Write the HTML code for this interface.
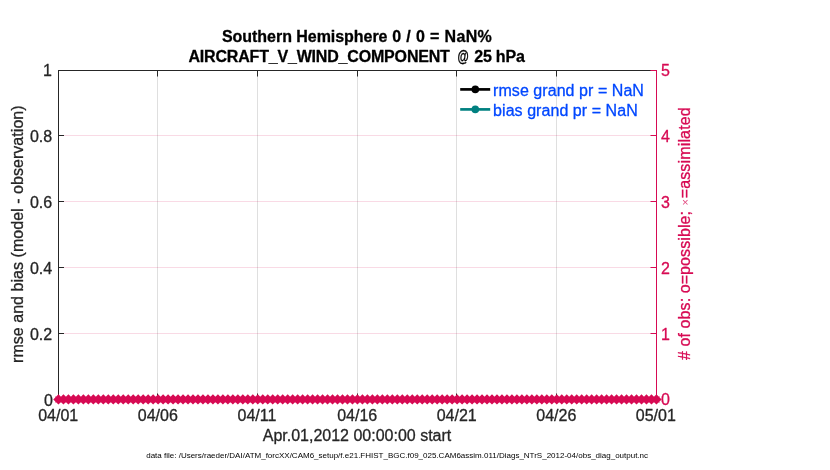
<!DOCTYPE html>
<html lang="en"><head><meta charset="utf-8"><title>AIRCRAFT_V_WIND_COMPONENT @ 25 hPa</title>
<style>
html,body{margin:0;padding:0;background:#fff;}
body{width:830px;height:470px;overflow:hidden;}
svg{display:block;}
text{font-family:"Liberation Sans",Arial,Helvetica,sans-serif;font-size:16px;stroke-width:0.3px;stroke-linejoin:round;}
</style></head><body>
<svg width="830" height="470" viewBox="0 0 830 470">
<rect width="830" height="470" fill="#fff"/>
<g stroke="#262626" stroke-opacity="0.15" stroke-width="1" fill="none">
<line x1="157.5" y1="70.5" x2="157.5" y2="399.5"/>
<line x1="257.5" y1="70.5" x2="257.5" y2="399.5"/>
<line x1="357.5" y1="70.5" x2="357.5" y2="399.5"/>
<line x1="456.5" y1="70.5" x2="456.5" y2="399.5"/>
<line x1="556.5" y1="70.5" x2="556.5" y2="399.5"/>
</g>
<g stroke="#D70A53" stroke-opacity="0.15" stroke-width="1" fill="none">
<line x1="58.5" y1="135.5" x2="656.5" y2="135.5"/>
<line x1="58.5" y1="201.5" x2="656.5" y2="201.5"/>
<line x1="58.5" y1="267.5" x2="656.5" y2="267.5"/>
<line x1="58.5" y1="333.5" x2="656.5" y2="333.5"/>
</g>
<g stroke="#262626" stroke-width="1" fill="none">
<line x1="157.5" y1="70.5" x2="157.5" y2="76.5"/>
<line x1="157.5" y1="399.5" x2="157.5" y2="393.5"/>
<line x1="257.5" y1="70.5" x2="257.5" y2="76.5"/>
<line x1="257.5" y1="399.5" x2="257.5" y2="393.5"/>
<line x1="357.5" y1="70.5" x2="357.5" y2="76.5"/>
<line x1="357.5" y1="399.5" x2="357.5" y2="393.5"/>
<line x1="456.5" y1="70.5" x2="456.5" y2="76.5"/>
<line x1="456.5" y1="399.5" x2="456.5" y2="393.5"/>
<line x1="556.5" y1="70.5" x2="556.5" y2="76.5"/>
<line x1="556.5" y1="399.5" x2="556.5" y2="393.5"/>
<line x1="58.5" y1="135.5" x2="64.0" y2="135.5"/>
<line x1="58.5" y1="201.5" x2="64.0" y2="201.5"/>
<line x1="58.5" y1="267.5" x2="64.0" y2="267.5"/>
<line x1="58.5" y1="333.5" x2="64.0" y2="333.5"/>
<path d="M58.0 70.5H656.5 M58.0 399.5H656.5 M58.5 70.5V399.5"/>
</g>
<g stroke="#D70A53" stroke-width="1" fill="none">
<line x1="656.5" y1="70.0" x2="656.5" y2="400.0"/>
<line x1="650.5" y1="70.5" x2="656.5" y2="70.5"/>
<line x1="650.5" y1="135.5" x2="656.5" y2="135.5"/>
<line x1="650.5" y1="201.5" x2="656.5" y2="201.5"/>
<line x1="650.5" y1="267.5" x2="656.5" y2="267.5"/>
<line x1="650.5" y1="333.5" x2="656.5" y2="333.5"/>
<line x1="650.5" y1="399.5" x2="656.5" y2="399.5"/>
</g>
<path fill="#D70A53" stroke="none" d="M55.3 396.4H659.7V402.4H55.3zM53.25 399.4l5.2 -5.2l5.2 5.2l-5.2 5.2zM58.23 399.4l5.2 -5.2l5.2 5.2l-5.2 5.2zM63.22 399.4l5.2 -5.2l5.2 5.2l-5.2 5.2zM68.20 399.4l5.2 -5.2l5.2 5.2l-5.2 5.2zM73.18 399.4l5.2 -5.2l5.2 5.2l-5.2 5.2zM78.17 399.4l5.2 -5.2l5.2 5.2l-5.2 5.2zM83.15 399.4l5.2 -5.2l5.2 5.2l-5.2 5.2zM88.13 399.4l5.2 -5.2l5.2 5.2l-5.2 5.2zM93.12 399.4l5.2 -5.2l5.2 5.2l-5.2 5.2zM98.10 399.4l5.2 -5.2l5.2 5.2l-5.2 5.2zM103.08 399.4l5.2 -5.2l5.2 5.2l-5.2 5.2zM108.07 399.4l5.2 -5.2l5.2 5.2l-5.2 5.2zM113.05 399.4l5.2 -5.2l5.2 5.2l-5.2 5.2zM118.03 399.4l5.2 -5.2l5.2 5.2l-5.2 5.2zM123.02 399.4l5.2 -5.2l5.2 5.2l-5.2 5.2zM128.00 399.4l5.2 -5.2l5.2 5.2l-5.2 5.2zM132.98 399.4l5.2 -5.2l5.2 5.2l-5.2 5.2zM137.97 399.4l5.2 -5.2l5.2 5.2l-5.2 5.2zM142.95 399.4l5.2 -5.2l5.2 5.2l-5.2 5.2zM147.93 399.4l5.2 -5.2l5.2 5.2l-5.2 5.2zM152.92 399.4l5.2 -5.2l5.2 5.2l-5.2 5.2zM157.90 399.4l5.2 -5.2l5.2 5.2l-5.2 5.2zM162.88 399.4l5.2 -5.2l5.2 5.2l-5.2 5.2zM167.87 399.4l5.2 -5.2l5.2 5.2l-5.2 5.2zM172.85 399.4l5.2 -5.2l5.2 5.2l-5.2 5.2zM177.83 399.4l5.2 -5.2l5.2 5.2l-5.2 5.2zM182.82 399.4l5.2 -5.2l5.2 5.2l-5.2 5.2zM187.80 399.4l5.2 -5.2l5.2 5.2l-5.2 5.2zM192.78 399.4l5.2 -5.2l5.2 5.2l-5.2 5.2zM197.77 399.4l5.2 -5.2l5.2 5.2l-5.2 5.2zM202.75 399.4l5.2 -5.2l5.2 5.2l-5.2 5.2zM207.73 399.4l5.2 -5.2l5.2 5.2l-5.2 5.2zM212.72 399.4l5.2 -5.2l5.2 5.2l-5.2 5.2zM217.70 399.4l5.2 -5.2l5.2 5.2l-5.2 5.2zM222.68 399.4l5.2 -5.2l5.2 5.2l-5.2 5.2zM227.67 399.4l5.2 -5.2l5.2 5.2l-5.2 5.2zM232.65 399.4l5.2 -5.2l5.2 5.2l-5.2 5.2zM237.63 399.4l5.2 -5.2l5.2 5.2l-5.2 5.2zM242.62 399.4l5.2 -5.2l5.2 5.2l-5.2 5.2zM247.60 399.4l5.2 -5.2l5.2 5.2l-5.2 5.2zM252.58 399.4l5.2 -5.2l5.2 5.2l-5.2 5.2zM257.57 399.4l5.2 -5.2l5.2 5.2l-5.2 5.2zM262.55 399.4l5.2 -5.2l5.2 5.2l-5.2 5.2zM267.53 399.4l5.2 -5.2l5.2 5.2l-5.2 5.2zM272.52 399.4l5.2 -5.2l5.2 5.2l-5.2 5.2zM277.50 399.4l5.2 -5.2l5.2 5.2l-5.2 5.2zM282.48 399.4l5.2 -5.2l5.2 5.2l-5.2 5.2zM287.47 399.4l5.2 -5.2l5.2 5.2l-5.2 5.2zM292.45 399.4l5.2 -5.2l5.2 5.2l-5.2 5.2zM297.43 399.4l5.2 -5.2l5.2 5.2l-5.2 5.2zM302.42 399.4l5.2 -5.2l5.2 5.2l-5.2 5.2zM307.40 399.4l5.2 -5.2l5.2 5.2l-5.2 5.2zM312.38 399.4l5.2 -5.2l5.2 5.2l-5.2 5.2zM317.37 399.4l5.2 -5.2l5.2 5.2l-5.2 5.2zM322.35 399.4l5.2 -5.2l5.2 5.2l-5.2 5.2zM327.33 399.4l5.2 -5.2l5.2 5.2l-5.2 5.2zM332.32 399.4l5.2 -5.2l5.2 5.2l-5.2 5.2zM337.30 399.4l5.2 -5.2l5.2 5.2l-5.2 5.2zM342.28 399.4l5.2 -5.2l5.2 5.2l-5.2 5.2zM347.27 399.4l5.2 -5.2l5.2 5.2l-5.2 5.2zM352.25 399.4l5.2 -5.2l5.2 5.2l-5.2 5.2zM357.23 399.4l5.2 -5.2l5.2 5.2l-5.2 5.2zM362.22 399.4l5.2 -5.2l5.2 5.2l-5.2 5.2zM367.20 399.4l5.2 -5.2l5.2 5.2l-5.2 5.2zM372.18 399.4l5.2 -5.2l5.2 5.2l-5.2 5.2zM377.17 399.4l5.2 -5.2l5.2 5.2l-5.2 5.2zM382.15 399.4l5.2 -5.2l5.2 5.2l-5.2 5.2zM387.13 399.4l5.2 -5.2l5.2 5.2l-5.2 5.2zM392.12 399.4l5.2 -5.2l5.2 5.2l-5.2 5.2zM397.10 399.4l5.2 -5.2l5.2 5.2l-5.2 5.2zM402.08 399.4l5.2 -5.2l5.2 5.2l-5.2 5.2zM407.07 399.4l5.2 -5.2l5.2 5.2l-5.2 5.2zM412.05 399.4l5.2 -5.2l5.2 5.2l-5.2 5.2zM417.03 399.4l5.2 -5.2l5.2 5.2l-5.2 5.2zM422.02 399.4l5.2 -5.2l5.2 5.2l-5.2 5.2zM427.00 399.4l5.2 -5.2l5.2 5.2l-5.2 5.2zM431.98 399.4l5.2 -5.2l5.2 5.2l-5.2 5.2zM436.97 399.4l5.2 -5.2l5.2 5.2l-5.2 5.2zM441.95 399.4l5.2 -5.2l5.2 5.2l-5.2 5.2zM446.93 399.4l5.2 -5.2l5.2 5.2l-5.2 5.2zM451.92 399.4l5.2 -5.2l5.2 5.2l-5.2 5.2zM456.90 399.4l5.2 -5.2l5.2 5.2l-5.2 5.2zM461.88 399.4l5.2 -5.2l5.2 5.2l-5.2 5.2zM466.87 399.4l5.2 -5.2l5.2 5.2l-5.2 5.2zM471.85 399.4l5.2 -5.2l5.2 5.2l-5.2 5.2zM476.83 399.4l5.2 -5.2l5.2 5.2l-5.2 5.2zM481.82 399.4l5.2 -5.2l5.2 5.2l-5.2 5.2zM486.80 399.4l5.2 -5.2l5.2 5.2l-5.2 5.2zM491.78 399.4l5.2 -5.2l5.2 5.2l-5.2 5.2zM496.77 399.4l5.2 -5.2l5.2 5.2l-5.2 5.2zM501.75 399.4l5.2 -5.2l5.2 5.2l-5.2 5.2zM506.73 399.4l5.2 -5.2l5.2 5.2l-5.2 5.2zM511.72 399.4l5.2 -5.2l5.2 5.2l-5.2 5.2zM516.70 399.4l5.2 -5.2l5.2 5.2l-5.2 5.2zM521.68 399.4l5.2 -5.2l5.2 5.2l-5.2 5.2zM526.67 399.4l5.2 -5.2l5.2 5.2l-5.2 5.2zM531.65 399.4l5.2 -5.2l5.2 5.2l-5.2 5.2zM536.63 399.4l5.2 -5.2l5.2 5.2l-5.2 5.2zM541.62 399.4l5.2 -5.2l5.2 5.2l-5.2 5.2zM546.60 399.4l5.2 -5.2l5.2 5.2l-5.2 5.2zM551.58 399.4l5.2 -5.2l5.2 5.2l-5.2 5.2zM556.57 399.4l5.2 -5.2l5.2 5.2l-5.2 5.2zM561.55 399.4l5.2 -5.2l5.2 5.2l-5.2 5.2zM566.53 399.4l5.2 -5.2l5.2 5.2l-5.2 5.2zM571.52 399.4l5.2 -5.2l5.2 5.2l-5.2 5.2zM576.50 399.4l5.2 -5.2l5.2 5.2l-5.2 5.2zM581.48 399.4l5.2 -5.2l5.2 5.2l-5.2 5.2zM586.47 399.4l5.2 -5.2l5.2 5.2l-5.2 5.2zM591.45 399.4l5.2 -5.2l5.2 5.2l-5.2 5.2zM596.43 399.4l5.2 -5.2l5.2 5.2l-5.2 5.2zM601.42 399.4l5.2 -5.2l5.2 5.2l-5.2 5.2zM606.40 399.4l5.2 -5.2l5.2 5.2l-5.2 5.2zM611.38 399.4l5.2 -5.2l5.2 5.2l-5.2 5.2zM616.37 399.4l5.2 -5.2l5.2 5.2l-5.2 5.2zM621.35 399.4l5.2 -5.2l5.2 5.2l-5.2 5.2zM626.33 399.4l5.2 -5.2l5.2 5.2l-5.2 5.2zM631.32 399.4l5.2 -5.2l5.2 5.2l-5.2 5.2zM636.30 399.4l5.2 -5.2l5.2 5.2l-5.2 5.2zM641.28 399.4l5.2 -5.2l5.2 5.2l-5.2 5.2zM646.27 399.4l5.2 -5.2l5.2 5.2l-5.2 5.2zM651.25 399.4l5.2 -5.2l5.2 5.2l-5.2 5.2z"/>
<g fill="none" stroke-width="2.7">
<line x1="460.2" y1="89.4" x2="490.2" y2="89.4" stroke="#000"/>
<line x1="460.2" y1="109.4" x2="490.2" y2="109.4" stroke="#008080"/>
</g>
<circle cx="475.3" cy="89.4" r="3.8" fill="#000"/>
<circle cx="475.3" cy="109.4" r="3.8" fill="#008080"/>
<g fill="#0047FF" stroke="#0047FF">
<text x="493.1" y="95.9" textLength="150.8" lengthAdjust="spacing">rmse grand pr = NaN</text>
<text x="493.1" y="115.9" textLength="144.6" lengthAdjust="spacing">bias grand pr = NaN</text>
</g>
<g fill="#000" stroke="#000" font-weight="bold" text-anchor="middle">
<text x="222" y="41.9" text-anchor="start" textLength="165.5" lengthAdjust="spacing">Southern Hemisphere</text>
<text x="392.2" y="41.9" text-anchor="start" textLength="99.6" lengthAdjust="spacing">0 / 0 = NaN%</text>
<text x="188.4" y="61.7" text-anchor="start" textLength="261.5" lengthAdjust="spacing">AIRCRAFT_V_WIND_COMPONENT</text>
<text transform="translate(457.6 61.7) scale(0.72 1)" text-anchor="start">@</text>
<text x="474.2" y="61.7" text-anchor="start" textLength="50.6" lengthAdjust="spacing">25 hPa</text>
</g>
<g fill="#262626" stroke="#262626" text-anchor="middle">
<text x="58.2" y="420.5">04/01</text>
<text x="157.8" y="420.5">04/06</text>
<text x="257.0" y="420.5">04/11</text>
<text x="357.2" y="420.5">04/16</text>
<text x="456.7" y="420.5">04/21</text>
<text x="556.3" y="420.5">04/26</text>
<text x="655.8" y="420.5">05/01</text>
<text x="357" y="441.2">Apr.01,2012 00:00:00 start</text>
</g>
<g fill="#262626" stroke="#262626" text-anchor="end">
<text x="52.0" y="76.3">1</text>
<text x="52.2" y="142.1">0.8</text>
<text x="52.2" y="208.1">0.6</text>
<text x="52.2" y="274.1">0.4</text>
<text x="52.2" y="340.1">0.2</text>
<text x="52.8" y="405.6">0</text>
</g>
<g fill="#D70A53" stroke="#D70A53" text-anchor="start">
<text x="661" y="76.3">5</text>
<text x="661" y="142.1">4</text>
<text x="661" y="208.1">3</text>
<text x="661" y="274.1">2</text>
<text x="661" y="340.1">1</text>
<text x="661" y="405.2">0</text>
</g>
<text transform="translate(23.4 234.2) rotate(-90)" text-anchor="middle" textLength="257.6" lengthAdjust="spacing" fill="#262626" stroke="#262626">rmse and bias (model - observation)</text>
<g fill="#D70A53" stroke="#D70A53">
<text transform="translate(689.7 360.0) rotate(-90)" textLength="149" lengthAdjust="spacing"># of obs: o=possible;</text>
<text transform="translate(688.8 202.3) rotate(-90)" text-anchor="middle" font-size="11px" style="font-size:11px" stroke="none" opacity="0.75">×</text>
<text transform="translate(689.7 198.3) rotate(-90)" textLength="91" lengthAdjust="spacing">=assimilated</text>
</g>
<text x="146.2" y="458.3" font-size="8px" fill="#000" style="font-size:8px">data file: /Users/raeder/DAI/ATM_forcXX/CAM6_setup/f.e21.FHIST_BGC.f09_025.CAM6assim.011/Diags_NTrS_2012-04/obs_diag_output.nc</text>
</svg></body></html>
